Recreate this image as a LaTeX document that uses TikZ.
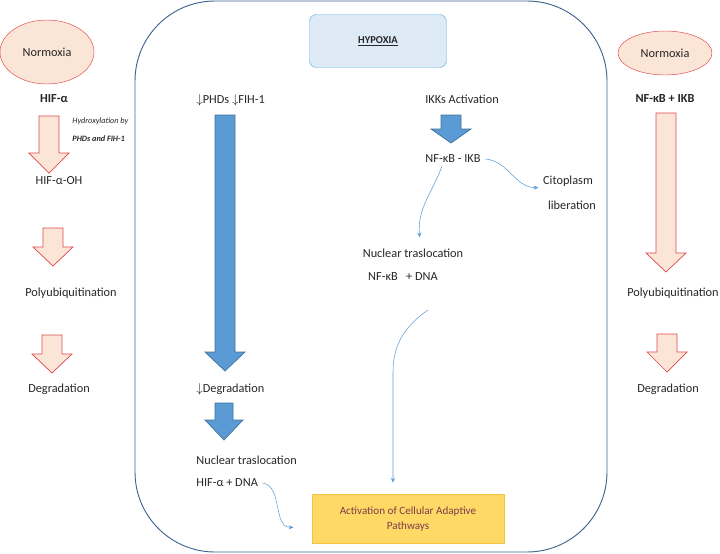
\documentclass[tikz,border=0pt]{standalone}
\usepackage{fontspec}
\setmainfont{Carlito}
\usetikzlibrary{arrows.meta,shapes.geometric}

\definecolor{pinkfill}{HTML}{FBE5D6}
\definecolor{redline}{HTML}{E0474F}
\definecolor{bluefill}{HTML}{5B9BD5}
\definecolor{blueline}{HTML}{41719C}
\definecolor{framecol}{HTML}{3F6590}
\definecolor{hypfill}{HTML}{DEEBF7}
\definecolor{hypline}{HTML}{5BB0E0}
\definecolor{yelfill}{HTML}{FFD966}
\definecolor{yelline}{HTML}{F5C242}
\definecolor{boxtext}{HTML}{7B3B4B}
\definecolor{txtcol}{HTML}{262626}

% block arrow: [style]{x}{top}{head base}{tip}{shaft half}{head half}
\newcommand{\fatarrow}[7][]{%
  \draw[#1] (#2-#6,#3) -- (#2+#6,#3) -- (#2+#6,#4) -- (#2+#7,#4) -- (#2,#5)
    -- (#2-#7,#4) -- (#2-#6,#4) -- cycle;}

\begin{document}
\begin{tikzpicture}[x=0.03cm,y=-0.03cm,font=\fontsize{10.5}{12}\selectfont,text=txtcol]
    \tikzstyle{normo}=[ellipse,draw=redline,fill=pinkfill,thin,inner sep=0pt]
    \tikzstyle{lbl}=[inner sep=1pt]
    \tikzstyle{blbl}=[inner sep=1pt,font=\fontsize{10.5}{12}\selectfont\bfseries]
    \tikzstyle{redarrow}=[draw=redline,fill=pinkfill,line width=0.6pt]
    \tikzstyle{bluearrow}=[draw=blueline,fill=bluefill,line width=0.6pt]
    \tikzstyle{flow}=[draw=bluefill,line width=0.45pt,-{Stealth[length=4pt,width=3.5pt]}]
    \useasboundingbox (0,0) rectangle (720,553);
    % frame of the hypoxia part
    \draw[framecol,line width=0.8pt,rounded corners=2.4cm] (135,1) rectangle (607,552);
    \node (hypoxia) at (378,41) [draw=hypline,fill=hypfill,rounded corners=6pt,
        minimum width=137*0.03cm,minimum height=53*0.03cm,
        font=\fontsize{9}{11}\selectfont\bfseries] {\underline{HYPOXIA}};

    % normoxia, HIF
    \node (normoxL) at (47,52) [normo,minimum width=94*0.03cm,minimum height=64*0.03cm] {Normoxia};
    \node (hifa) at (54,99) [blbl] {HIF-α};
    \fatarrow[redarrow]{49}{116}{153}{173}{10}{20}
    \node (hydro) at (71,121) [lbl,anchor=west,font=\fontsize{7}{8}\selectfont\itshape] {Hydroxylation by};
    \node (phds) at (71,139) [lbl,anchor=west,font=\fontsize{7}{8}\selectfont\bfseries\itshape] {PHDs and FIH-1};
    \node (hifoh) at (59,181) [lbl] {HIF-α-OH};
    \fatarrow[redarrow]{53}{228}{247}{266}{10}{20}
    \node (polyL) at (71,293) [lbl] {Polyubiquitination};
    \fatarrow[redarrow]{52}{335}{354}{373}{10}{20}
    \node (degL) at (59,389) [lbl] {Degradation};

    % normoxia, NF-kB
    \node (normoxR) at (665,53) [normo,minimum width=94*0.03cm,minimum height=44*0.03cm] {Normoxia};
    \node (nfkbR) at (665,99) [blbl] {NF-κB + IKB};
    \fatarrow[redarrow]{666}{113}{253}{272}{10}{20}
    \node (polyR) at (673,293) [lbl] {Polyubiquitination};
    \fatarrow[redarrow]{667}{334}{352}{372}{10}{20}
    \node (degR) at (668,389) [lbl] {Degradation};

    % hypoxia, HIF
    \node (phdsdown) at (195,100) [lbl,anchor=west] {$\downarrow$PHDs $\downarrow$FIH-1};
    \fatarrow[bluearrow]{225}{115}{352}{371}{10}{20}
    \node (degdown) at (195,389) [lbl,anchor=west] {$\downarrow$Degradation};
    \fatarrow[bluearrow]{224}{403}{420}{440}{9}{19}
    \node (nuctransH) at (195,460) [lbl,anchor=west] {Nuclear traslocation};
    \node (hifdna) at (195,483) [lbl,anchor=west] {HIF-α + DNA};

    % hypoxia, NF-kB
    \node (ikk) at (462,99) [lbl] {IKKs Activation};
    \fatarrow[bluearrow]{451}{115}{129}{143}{10}{20}
    \node (nfikb) at (453,159) [lbl] {NF-κB - IKB};
    \node (cito) at (568,181) [lbl] {Citoplasm};
    \node (liber) at (572,205) [lbl] {liberation};
    \node (nuctransN) at (413,253) [lbl] {Nuclear traslocation};
    \node (nfdna) at (403,277) [lbl] {NF-κB \ \ + DNA};
    \coordinate (nfdnaout) at (428,310);

    \node (adapt) at (408,519) [draw=yelline,fill=yelfill,text=boxtext,
        minimum width=192*0.03cm,minimum height=49*0.03cm,align=center,
        font=\fontsize{9.5}{13}\selectfont] {Activation of Cellular Adaptive\\Pathways};

    \draw[flow] ([xshift=-0.33cm,yshift=-0.05cm]nfikb.south) to[out=250,in=95]
        ([xshift=0.2cm,yshift=0.3cm]nuctransN.north);
    \draw[flow] ([xshift=0.1cm]nfikb.east) to[out=-5,in=180]
        ([yshift=-0.2cm,xshift=-0.1cm]cito.west);
    \draw[flow] (nfdnaout) to[out=215,in=90] (393,372) -- ([xshift=-0.45cm,yshift=0.35cm]adapt.north);
    \draw[flow] ([xshift=0.1cm]hifdna.east) to[out=-10,in=180]
        ([xshift=-0.55cm,yshift=-0.25cm]adapt.west);
\end{tikzpicture}
\end{document}
